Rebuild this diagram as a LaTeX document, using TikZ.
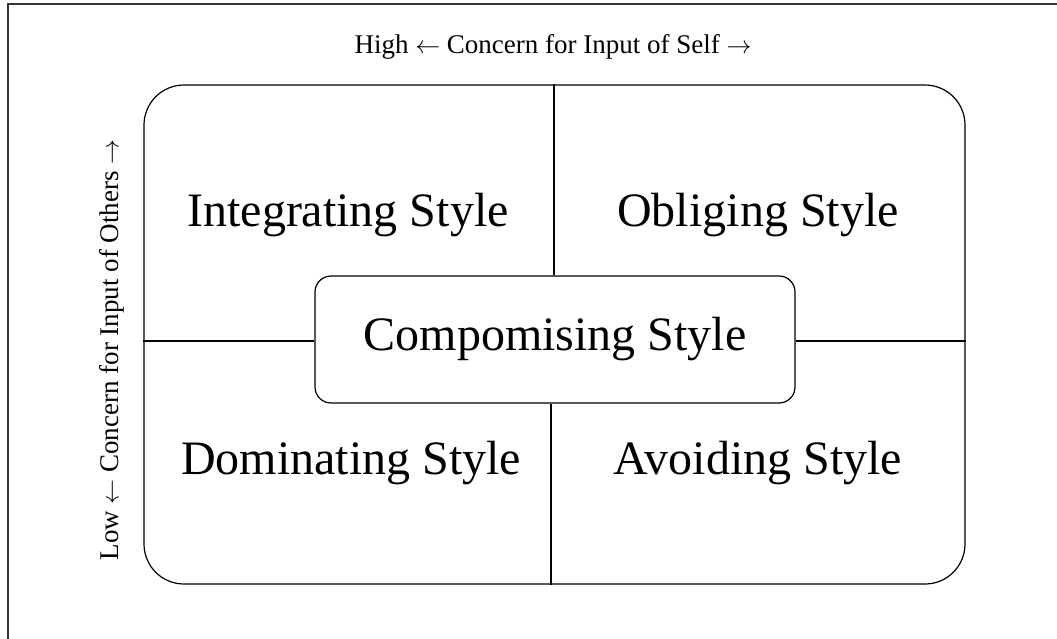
\documentclass[tikz,border=0pt]{standalone}
\usepackage{fontspec}
\setmainfont{Liberation Serif}
\begin{document}
\begin{tikzpicture}[x=1pt,y=-1pt,
  frame/.style={draw=black!80,line width=2pt},
  grid/.style={draw=black,line width=1.2pt},
  stylelabel/.style={font=\fontsize{48}{56}\selectfont,inner sep=0pt},
  axislabel/.style={font=\fontsize{27}{32}\selectfont,inner sep=0pt}]
\useasboundingbox (0,0) rectangle (1057,638);
% page frame, running off the right and lower edges
\draw[frame] (7.5,3.5) rectangle (1080,660);
% outer rounded field
\node[grid,rounded corners=40pt,minimum width=821pt,minimum height=499pt,inner sep=0pt] (big) at (554.5,334.5) {};
% central rounded box
\node[grid,fill=white,rounded corners=16pt,minimum width=480pt,minimum height=127pt,inner sep=0pt,
      stylelabel] (comp) at (555,339.5) {Compomising Style};
% dividing lines
\draw[grid] ([xshift=-1pt]comp.north) -- ([xshift=-1pt]comp.north |- big.north);
\draw[grid] ([xshift=-4pt]comp.south) -- ([xshift=-4pt]comp.south |- big.south);
\draw[grid] ([yshift=-1.5pt]comp.west) -- ([yshift=-1.5pt]comp.west -| big.west);
\draw[grid] ([yshift=-1.5pt]comp.east) -- ([yshift=-1.5pt]comp.east -| big.east);
% quadrant labels
\node[stylelabel] (integ) at (348,215) {Integrating Style};
\node[stylelabel] (oblig) at (758,215) {Obliging Style};
\node[stylelabel] (domin) at (351,463) {Dominating Style};
\node[stylelabel] (avoid) at (758,463) {Avoiding Style};
% axis labels
\node[axislabel] (self) at (553,47) {High $\leftarrow$ Concern for Input of Self $\rightarrow$};
\node[axislabel,rotate=90] (others) at (112,350) {Low $\leftarrow$ Concern for Input of Others $\rightarrow$};
\end{tikzpicture}
\end{document}
